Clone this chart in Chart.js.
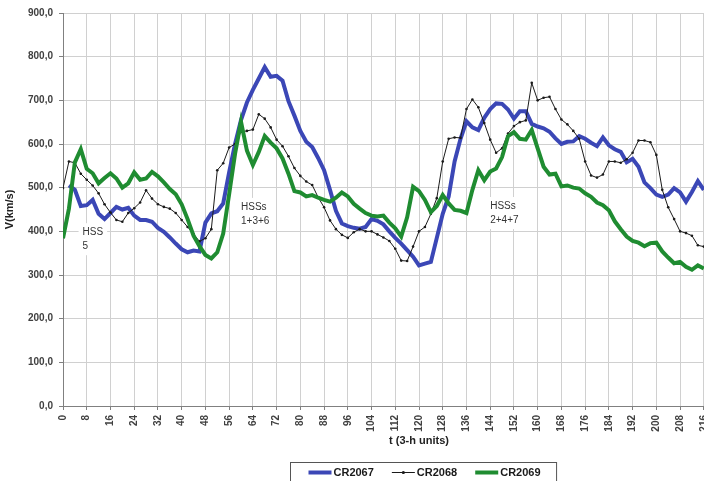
<!DOCTYPE html>
<html>
<head>
<meta charset="utf-8">
<script src="https://cdn.jsdelivr.net/npm/chart.js@4/dist/chart.umd.min.js"></script>
<style>
html,body{margin:0;padding:0;background:#fff;overflow:hidden;}
#wrap{position:relative;width:792px;height:490px;}
</style>
</head>
<body>
<div id="wrap"><canvas id="c" width="792" height="490"></canvas></div>
<script>
// t in 3-hour units
const T = [0,2,4,6,8,10,12,14,16,18,20,22,24,26,28,30,32,34,36,38,
  40,42,44,46,48,50,52,54,56,58,60,62,64,66,68,70,72,74,76,78,
  80,82,84,86,88,90,92,94,96,98,100,102,104,106,108,110,112,114,116,118,
  120,122,124,126,128,130,132,134,136,138,140,142,144,146,148,150,152,154,156,158,
  160,162,164,166,168,170,172,174,176,178,180,182,184,186,188,190,192,194,196,198,
  200,202,204,206,208,210,212,214,216];

const CR2067 = [null,505,495,458,460,472,440,428,442,456,
  450,454,436,426,426,422,408,399,386,372,
  359,352,356,354,420,441,446,464,535,600,
  655,695,724,750,776,754,756,745,698,665,
  630,605,593,568,540,495,447,418,412,408,
  406,410,428,424,416,400,385,372,357,342,
  322,326,330,385,440,480,560,612,652,638,
  632,660,680,693,692,679,658,675,675,646,
  640,636,628,613,600,605,606,618,612,603,
  595,615,597,588,582,558,566,548,512,499,
  484,479,484,499,489,468,490,515,495];

const CR2068 = [499,560,557,532,518,505,487,462,443,426,
  422,442,453,466,494,475,462,456,452,442,
  426,410,394,377,384,405,540,556,592,600,
  628,630,633,668,658,638,610,595,572,545,
  527,514,506,478,455,425,405,392,385,398,
  405,400,400,393,386,378,360,333,332,365,
  400,410,440,476,560,612,615,614,680,702,
  684,648,610,580,590,624,641,650,654,740,
  700,706,708,680,656,645,630,612,560,528,
  523,530,560,560,557,565,580,608,608,604,
  575,495,455,428,400,396,390,368,365];

const CR2069 = [384,452,558,588,543,533,510,522,533,521,
  500,510,535,518,521,536,526,512,497,485,
  462,428,390,366,346,338,352,395,485,578,
  651,585,552,582,618,603,590,567,532,492,
  489,480,483,477,472,468,477,489,480,463,
  452,442,436,434,436,420,407,388,432,502,
  492,472,444,458,483,464,449,447,442,495,
  540,517,537,544,570,618,627,612,610,632,
  590,548,530,532,503,505,500,498,487,479,
  466,460,448,423,405,388,378,374,366,373,
  374,354,340,327,330,319,312,322,315];

const SERIES_NAMES = ['CR2067','CR2068','CR2069'];
const NOTES = [
  {lines:['HSS','5'], t:6.6, v:398},
  {lines:['HSSs','1+3+6'], t:60.0, v:456},
  {lines:['HSSs','2+4+7'], t:144.0, v:458}
];

const FONT = '"Liberation Sans", Arial, sans-serif';
const BLUE = '#3b47b6';
const GREEN = '#1f8c31';
const BLACK = '#1a1a1a';

function pts(arr){ return T.map((t,i)=>({x:t, y:arr[i]})); }

const notesPlugin = {
  id:'notes',
  beforeDatasetsDraw(chart){
    const ctx = chart.ctx, xs = chart.scales.x, ys = chart.scales.y;
    ctx.save();
    ctx.font = '10px ' + FONT;
    ctx.textBaseline = 'middle';
    NOTES.forEach(n=>{
      const px = xs.getPixelForValue(n.t), py = ys.getPixelForValue(n.v);
      const w = Math.max(...n.lines.map(l=>ctx.measureText(l).width));
      ctx.fillStyle = '#ffffff';
      ctx.fillRect(px-4, py-9, w+8, n.lines.length*14+4);
      ctx.fillStyle = '#333333';
      n.lines.forEach((l,i)=>ctx.fillText(l, px, py + i*14));
    });
    ctx.restore();
  }
};

const legendPlugin = {
  id:'boxLegend',
  afterDraw(chart){
    const ctx = chart.ctx, ca = chart.chartArea;
    const styles = [
      {c:BLUE, w:4, dot:false},
      {c:BLACK, w:1, dot:true},
      {c:GREEN, w:4, dot:false}
    ];
    ctx.save();
    ctx.font = 'bold 11px ' + FONT;
    const lineW = 23, gapA = 2, gapB = 18, padL = 18, padR = 16, h = 22;
    const tw = SERIES_NAMES.map(s=>ctx.measureText(s).width);
    let W = padL + padR + gapB*(SERIES_NAMES.length-1);
    tw.forEach(w=>{ W += lineW + gapA + w; });
    const cx = (ca.left + ca.right)/2 + 4;
    const left = Math.round(cx - W/2) + 0.5;
    const top = ca.bottom + 56.5;
    ctx.fillStyle = '#fff';
    ctx.fillRect(left, top, W, h);
    ctx.strokeStyle = '#555';
    ctx.lineWidth = 1;
    ctx.strokeRect(left, top, W, h);
    let x = left + padL;
    const yc = top + 10;
    SERIES_NAMES.forEach((name,i)=>{
      const s = styles[i];
      ctx.strokeStyle = s.c; ctx.lineWidth = s.w;
      ctx.beginPath(); ctx.moveTo(x, yc); ctx.lineTo(x+lineW, yc); ctx.stroke();
      if (s.dot){ ctx.fillStyle = s.c; ctx.beginPath(); ctx.arc(x+lineW/2, yc, 1.6, 0, Math.PI*2); ctx.fill(); }
      x += lineW + gapA;
      ctx.fillStyle = '#1a1a1a';
      ctx.textBaseline = 'middle';
      ctx.fillText(name, x, yc + 0.5);
      x += tw[i] + gapB;
    });
    ctx.restore();
  }
};

new Chart(document.getElementById('c'), {
  type:'line',
  data:{
    datasets:[
      {label:SERIES_NAMES[0], data:pts(CR2067), borderColor:BLUE, backgroundColor:BLUE, borderWidth:4, pointRadius:0, tension:0, order:2},
      {label:SERIES_NAMES[1], data:pts(CR2068), borderColor:BLACK, backgroundColor:BLACK, borderWidth:1, pointRadius:1.3, pointBorderWidth:0, pointBackgroundColor:BLACK, tension:0, order:1},
      {label:SERIES_NAMES[2], data:pts(CR2069), borderColor:GREEN, backgroundColor:GREEN, borderWidth:4, pointRadius:0, tension:0, order:0}
    ]
  },
  options:{
    responsive:false,
    animation:false,
    layout:{padding:{top:13, right:8, left:0, bottom:40}},
    plugins:{legend:{display:false}, tooltip:{enabled:false}},
    scales:{
      x:{
        type:'linear', min:0, max:240,
        ticks:{stepSize:8, minRotation:90, maxRotation:90, autoSkip:false, padding:5,
               font:{family:FONT, size:10, weight:'bold'}, color:'#404040'},
        grid:{color:'#d0d0d0', tickLength:4, tickColor:'#808080'},
        border:{color:'#808080', width:1},
        title:{display:true, text:'t (3-h units)', font:{family:FONT, size:11, weight:'bold'}, color:'#222', padding:{top:0, bottom:2}},
        afterFit(s){ s.height = 44; }
      },
      y:{
        min:0, max:900,
        ticks:{stepSize:100, padding:6, callback:v=>v.toFixed(1).replace('.',','),
               font:{family:FONT, size:10, weight:'bold'}, color:'#404040'},
        grid:{color:'#d0d0d0', tickLength:4, tickColor:'#808080'},
        border:{color:'#808080', width:1},
        title:{display:true, text:'V(km/s)', font:{family:FONT, size:11, weight:'bold'}, color:'#222', padding:{top:3, bottom:0}},
        afterFit(s){ s.width = 63; }
      }
    }
  },
  plugins:[notesPlugin, legendPlugin]
});
</script>
</body>
</html>
